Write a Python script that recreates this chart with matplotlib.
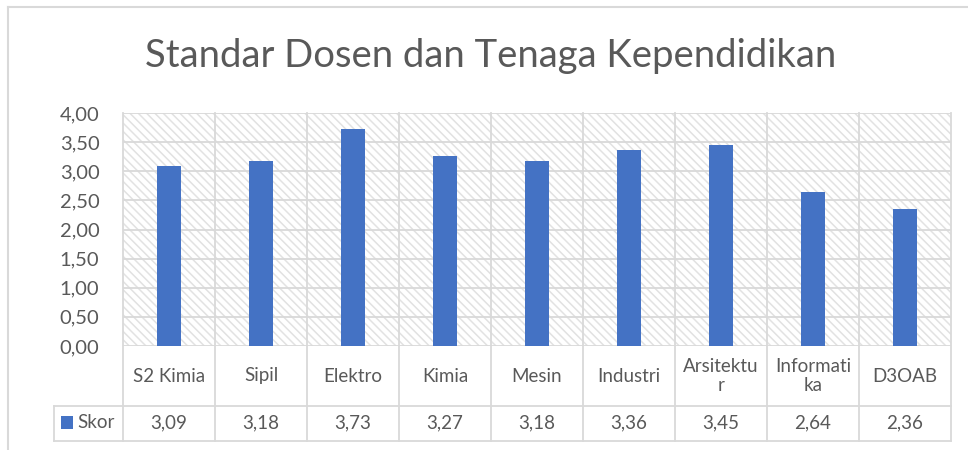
import matplotlib
matplotlib.use("Agg")
import matplotlib.pyplot as plt
from matplotlib.patches import Rectangle
from matplotlib.lines import Line2D

# data
categories = ["S2 Kimia", "Sipil", "Elektro", "Kimia", "Mesin",
              "Industri", "Arsitektu\nr", "Informati\nka", "D3OAB"]
skor = [3.09, 3.18, 3.73, 3.27, 3.18, 3.36, 3.45, 2.64, 2.36]
series_name = "Skor"
yticks = [0, 0.5, 1.0, 1.5, 2.0, 2.5, 3.0, 3.5, 4.0]

plt.rcParams['font.family'] = ['Lato', 'DejaVu Sans']
plt.rcParams['hatch.linewidth'] = 1.1

grid_c = "#d9d9d9"
text_c = "#595959"
bar_c = "#4472C4"

fig = plt.figure(figsize=(9.68, 4.5), dpi=100)
ax = fig.add_axes([123 / 968, 1 - 346 / 450, 828 / 968, 233 / 450])

n = len(categories)
x = list(range(n))

# hatched plot background
ax.add_patch(Rectangle((0, 0), 1, 1, transform=ax.transAxes, facecolor="white",
                       edgecolor="#e2e2e2", hatch="\\\\\\\\", lw=0, zorder=0))

ax.bar(x, skor, width=0.27, color=bar_c, zorder=3)

ax.set_xlim(-0.5, n - 0.5)
ax.set_ylim(0, 4)
ax.set_yticks(yticks)
ax.set_yticklabels(["{:.2f}".format(v).replace(".", ",") for v in yticks])
ax.tick_params(axis="y", length=0, pad=17, labelsize=14.5, labelcolor=text_c)
ax.set_xticks([])
for s in ax.spines.values():
    s.set_visible(False)

# horizontal gridlines
for v in yticks:
    ax.axhline(v, color=grid_c, lw=1.3, zorder=1)

# vertical lines at category boundaries, extended through the data table
xt = ax.get_xaxis_transform()
y_cat = -60 / 233
y_bot = -95 / 233
for b in [i - 0.5 for i in range(n + 1)]:
    ax.plot([b, b], [1, y_bot], color=grid_c, lw=1.3, transform=xt,
            clip_on=False, zorder=1)

# data table horizontal lines
leg_left = -0.5 - 69 / 92
ax.plot([leg_left, n - 0.5], [y_cat, y_cat], color=grid_c, lw=1.3,
        transform=xt, clip_on=False)
ax.plot([leg_left, n - 0.5], [y_bot, y_bot], color=grid_c, lw=1.3,
        transform=xt, clip_on=False)
ax.plot([leg_left, leg_left], [y_cat, y_bot], color=grid_c, lw=1.3,
        transform=xt, clip_on=False)

# category labels and values
for i, (c, v) in enumerate(zip(categories, skor)):
    ax.text(i, -30 / 233, c, transform=xt, ha="center", va="center",
            fontsize=13.5, color=text_c, linespacing=1.15)
    ax.text(i, -77 / 233, "{:.2f}".format(v).replace(".", ","), transform=xt,
            ha="center", va="center", fontsize=13.5, color=text_c)

# legend key in the table
ax.add_patch(Rectangle((leg_left + 0.08, -83 / 233), 0.13, 13 / 233, transform=xt,
                       facecolor=bar_c, lw=0, clip_on=False))
ax.text(leg_left + 0.25, -77 / 233, series_name, transform=xt, ha="left",
        va="center", fontsize=13.5, color=text_c)

# title
fig.text(0.507, 1 - 56 / 450, "Standar Dosen dan Tenaga Kependidikan",
         ha="center", va="center", fontsize=27.5, color=text_c)

# chart frame (cropped)
fig.add_artist(Line2D([8 / 968, 8 / 968], [0, 1 - 7 / 450], color=grid_c, lw=1.5))
fig.add_artist(Line2D([8 / 968, 1], [1 - 7 / 450, 1 - 7 / 450], color=grid_c, lw=1.5))

fig.savefig("out.png", dpi=100)
